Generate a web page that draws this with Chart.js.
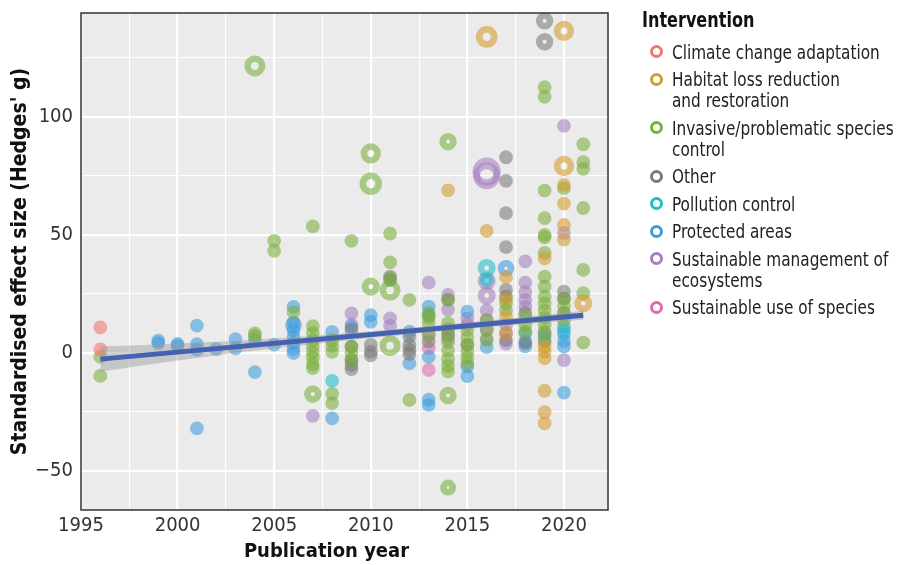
<!DOCTYPE html>
<html>
<head>
<meta charset="utf-8">
<script src="https://cdn.jsdelivr.net/npm/chart.js@4.4.1/dist/chart.umd.min.js"></script>
<style>
  body { margin: 0; background: #fff; }
  #wrap { position: relative; width: 906px; height: 565px; font-family: "Liberation Sans Narrow", "DejaVu Sans Condensed", Roboto, sans-serif; }
  #legend { position: absolute; left: 642px; top: 8px; color: #222; }
  #legend .ttl { font-weight: bold; font-size: 21px; line-height: 24px; color: #111; padding-bottom: 3px;
                 white-space: nowrap; transform: scaleX(0.85); transform-origin: left top; }
  #legend .item { display: flex; align-items: flex-start; font-size: 20px; line-height: 21px; margin-top: 6.5px; padding-left: 8px; }
  #legend .dot { flex: none; width: 7px; height: 7px; border: 3.5px solid; border-radius: 50%; margin-top: 3.5px; margin-right: 9px; }
  #legend .lbl { white-space: nowrap; transform: scaleX(0.85); transform-origin: left top; }
</style>
</head>
<body>
<div id="wrap">
  <canvas id="chart" width="906" height="565"></canvas>
  <div id="legend"></div>
</div>
<script>
// data: [publication year, Hedges' g, relative weight]
const climate = [[1996, 10.8], [1996, 1.5]];

const habitat = [
  [2014, 68.9], [2016, 133.9, 2.1], [2016, 51.7],
  [2017, 32.1], [2017, 22.7], [2017, 15.4], [2017, 8.5],
  [2019, 40.1], [2019, 2.7], [2019, 0.6], [2019, -2.2], [2019, -16.0], [2019, -25.1], [2019, -29.8],
  [2020, 136.4, 1.9], [2020, 79.2, 1.9], [2020, 71.2], [2020, 63.3], [2020, 54.2], [2020, 48.0],
  [2021, 21.0, 1.6]
];

const invasive = [
  [1996, -1.6], [1996, -9.7],
  [2004, 121.6, 2], [2004, 8.3], [2004, 7.2],
  [2005, 47.5], [2005, 43.3],
  [2006, 17.3],
  [2007, 53.6], [2007, 11.4], [2007, 8.5], [2007, 5.5], [2007, 3.0], [2007, 0.4], [2007, -2.0], [2007, -4.7], [2007, -6.4], [2007, -17.4, 1.5],
  [2008, 5.5], [2008, 3.0], [2008, 0.5], [2008, -17.3], [2008, -21.2],
  [2009, 47.5], [2009, 2.7], [2009, 0], [2009, -3],
  [2010, 84.5, 1.9], [2010, 71.7, 2.2], [2010, 28.1, 1.6],
  [2011, 50.6], [2011, 38.4], [2011, 31.6], [2011, 26.6, 2], [2011, 3.1, 2],
  [2012, 22.5], [2012, -19.9],
  [2013, 17.0], [2013, 15.0], [2013, 12.7], [2013, 8.0],
  [2014, 89.5, 1.5], [2014, 22.5], [2014, 12.7], [2014, 8.5], [2014, 4.5], [2014, 1.0], [2014, -2.5], [2014, -5.5], [2014, -7.9], [2014, -18.0, 1.5], [2014, -57.0, 1.3],
  [2015, 9.7], [2015, 6.5], [2015, 3.5], [2015, 0.5], [2015, -2.0], [2015, -4.4],
  [2016, 14.0], [2016, 9.7], [2016, 5.5],
  [2017, 21.0], [2017, 18.2],
  [2018, 15.4], [2018, 12.0], [2018, 9.0],
  [2019, 112.6], [2019, 108.5], [2019, 68.8], [2019, 57.1], [2019, 50.0], [2019, 49.0], [2019, 42.4], [2019, 32.3], [2019, 28.1],
  [2019, 23.9], [2019, 21.0], [2019, 18.0], [2019, 15.0], [2019, 12.0], [2019, 9.0], [2019, 5.0],
  [2020, 69.8], [2020, 23.0], [2020, 20.0], [2020, 17.0], [2020, 14.0],
  [2021, 88.4], [2021, 80.8], [2021, 78.0], [2021, 61.4], [2021, 35.2], [2021, 25.3], [2021, 4.4]
];

const other = [
  [2009, 9.7], [2009, 2.7], [2009, -3.0], [2009, -5.1], [2009, -6.8],
  [2010, 3.4], [2010, 0.6], [2010, -1.0],
  [2011, 32.3], [2011, 30.9],
  [2012, 6.9], [2012, 3.4], [2012, 1.3], [2012, -0.5],
  [2013, 4.8],
  [2014, 22.5], [2014, 7.6],
  [2015, 3.4],
  [2017, 82.9], [2017, 72.9], [2017, 59.2], [2017, 44.8], [2017, 26.7], [2017, 23.9], [2017, 5.5],
  [2018, 17.0], [2018, 4.2],
  [2019, 140.7, 1.5], [2019, 131.8, 1.5],
  [2020, 26.0], [2020, 23.0]
];

const pollution = [[2008, -11.8], [2016, 36.0, 1.6], [2016, 31.0], [2020, 9.5]];

const protectedAreas = [
  [1999, 5.2], [1999, 4.2],
  [2000, 3.8], [2000, 3.0],
  [2001, 11.6], [2001, 3.7], [2001, 1.3], [2001, -31.9],
  [2002, 1.6],
  [2003, 5.9], [2003, 2.0],
  [2004, 5.5], [2004, -8.1],
  [2005, 3.5],
  [2006, 19.5], [2006, 11.8, 1.4], [2006, 13.0], [2006, 9.7], [2006, 6.8], [2006, 4.2], [2006, 1.7], [2006, 0],
  [2008, 8.9], [2008, -27.7],
  [2009, 11.0],
  [2010, 16.0], [2010, 13.2],
  [2012, 9.0], [2012, -4.4],
  [2013, 19.6], [2013, 16.0], [2013, -1.6], [2013, -19.8], [2013, -22.0],
  [2015, 17.5], [2015, -5.8], [2015, -9.8],
  [2016, 2.5],
  [2017, 35.9, 1.4],
  [2018, 8.3], [2018, 4.8], [2018, 2.8],
  [2019, 7.0],
  [2020, 11.2], [2020, 8.0], [2020, 5.0], [2020, 2.7], [2020, -16.8]
];

const management = [
  [2007, -26.6],
  [2009, 16.8], [2009, 12.0],
  [2011, 14.7], [2011, 11.5],
  [2013, 29.8],
  [2014, 24.6], [2014, 18.4], [2014, 10.0], [2014, 6.0],
  [2015, 14.7], [2015, 12.0],
  [2016, 76.8, 3.0], [2016, 75.0, 2.8], [2016, 30.5, 1.6], [2016, 24.3, 1.6], [2016, 18.0], [2016, 14.0], [2016, 10.0], [2016, 6.0],
  [2017, 12.0], [2017, 8.5], [2017, 4.0],
  [2018, 38.8], [2018, 29.8], [2018, 25.8], [2018, 22.5], [2018, 19.6],
  [2019, 8.3], [2019, 5.0],
  [2020, 96.2], [2020, 50.8], [2020, 17.0], [2020, -3.0]
];

const useSpecies = [[2013, 7.4], [2013, 2.0], [2013, -7.2]];

// fitted trend and its confidence band
const fitYears = [1996, 2021];
const fitValues = [-2.6, 16.0];
const bandYears = [1996, 1998, 2000, 2003, 2006, 2010, 2014, 2018, 2021];
const bandUpper = [2.7, 3.3, 4.0, 5.1, 6.7, 9.2, 12.1, 15.3, 17.9];
const bandLower = [-7.9, -5.5, -3.2, 0.1, 2.9, 6.4, 9.5, 12.3, 14.1];

const groups = [
  { name: ['Climate change adaptation'], color: [242, 118, 108], pts: climate },
  { name: ['Habitat loss reduction', 'and restoration'], color: [212, 154, 42], pts: habitat },
  { name: ['Invasive/problematic species', 'control'], color: [122, 174, 58], pts: invasive },
  { name: ['Other'], color: [122, 122, 122], pts: other },
  { name: ['Pollution control'], color: [27, 191, 196], pts: pollution },
  { name: ['Protected areas'], color: [62, 155, 220], pts: protectedAreas },
  { name: ['Sustainable management of', 'ecosystems'], color: [165, 126, 191], pts: management },
  { name: ['Sustainable use of species'], color: [223, 106, 174], pts: useSpecies }
];

const FONT = '"Liberation Sans Narrow", "DejaVu Sans Condensed", Roboto, sans-serif';
const rgba = (c, a) => `rgba(${c[0]},${c[1]},${c[2]},${a})`;

const panel = {
  id: 'panel',
  beforeDraw(chart) {
    const { ctx, chartArea: a } = chart;
    ctx.save();
    ctx.fillStyle = '#EBEBEB';
    ctx.fillRect(a.left, a.top, a.width, a.height);
    ctx.restore();
  },
  afterDraw(chart) {
    const { ctx, chartArea: a } = chart;
    ctx.save();
    ctx.strokeStyle = '#333';
    ctx.lineWidth = 1.5;
    ctx.strokeRect(a.left, a.top, a.width, a.height);
    // x axis title sits a little left of the panel centre in the original
    ctx.fillStyle = '#111';
    ctx.font = 'bold 20px ' + FONT;
    ctx.textAlign = 'center';
    ctx.textBaseline = 'middle';
    ctx.fillText('Publication year', (a.left + a.right) / 2 - 18, 552);
    ctx.restore();
  }
};

const datasets = [
  {
    type: 'line', label: 'fit', order: 0,
    data: fitYears.map((x, i) => ({ x, y: fitValues[i] })),
    borderColor: '#4562B0', borderWidth: 5, pointRadius: 0, fill: false
  },
  {
    type: 'line', label: 'upper', order: 1,
    data: bandYears.map((x, i) => ({ x, y: bandUpper[i] })),
    borderWidth: 0, pointRadius: 0, backgroundColor: 'rgba(153,153,153,0.45)', fill: '+1'
  },
  {
    type: 'line', label: 'lower', order: 1,
    data: bandYears.map((x, i) => ({ x, y: bandLower[i] })),
    borderWidth: 0, pointRadius: 0, fill: false
  },
  ...groups.map((g, i) => ({
    type: 'scatter', label: g.name.join(' '), order: 2 + i,
    data: g.pts.map(p => ({ x: p[0], y: p[1], w: p[2] || 1 })),
    pointBackgroundColor: 'rgba(0,0,0,0)',
    pointBorderColor: rgba(g.color, 0.58),
    pointBorderWidth: 6.6,
    pointRadius: ctx => 3.6 * (ctx.raw ? ctx.raw.w : 1)
  }))
];

new Chart(document.getElementById('chart'), {
  data: { datasets },
  plugins: [panel],
  options: {
    responsive: false,
    animation: false,
    events: [],
    layout: { autoPadding: false, padding: { top: 13, right: 298, left: 0, bottom: 0 } },
    plugins: { legend: { display: false }, tooltip: { enabled: false } },
    scales: {
      x: {
        type: 'linear', min: 1995, max: 2022.28,
        afterFit: s => { s.height = 55; s.paddingLeft = 0; s.paddingRight = 0; },
        border: { display: false },
        grid: {
          color: '#fff', drawTicks: false,
          lineWidth: c => (c.tick && c.tick.value % 5 === 0) ? 2.2 : 1.1
        },
        ticks: {
          stepSize: 2.5, includeBounds: false, autoSkip: false, maxRotation: 0, padding: 4,
          color: '#333', font: { family: FONT, size: 20 },
          callback: v => v % 5 === 0 ? String(v) : ''
        }
      },
      y: {
        type: 'linear', min: -66.5, max: 144,
        afterFit: s => { s.width = 81; s.paddingTop = 0; s.paddingBottom = 0; },
        border: { display: false },
        grid: {
          color: '#fff', drawTicks: false,
          lineWidth: c => (c.tick && c.tick.value % 50 === 0) ? 2.2 : 1.1
        },
        ticks: {
          stepSize: 25, includeBounds: false, autoSkip: false, padding: 8,
          color: '#333', font: { family: FONT, size: 20 },
          callback: v => v % 50 === 0 ? (v < 0 ? '\u2212' + Math.abs(v) : String(v)) : ''
        },
        title: {
          display: true, text: "Standardised effect size (Hedges' g)", color: '#111',
          font: { family: FONT, size: 21, weight: 'bold' }, padding: { top: 8, bottom: 0 }
        }
      }
    }
  }
});

// legend on the right, built from the same groups
const legend = document.getElementById('legend');
legend.innerHTML = '<div class="ttl">Intervention</div>' + groups.map(g => `
  <div class="item">
    <span class="dot" style="border-color:${rgba(g.color, 1)}"></span>
    <span class="lbl">${g.name.join('<br>')}</span>
  </div>`).join('');
</script>
</body>
</html>
